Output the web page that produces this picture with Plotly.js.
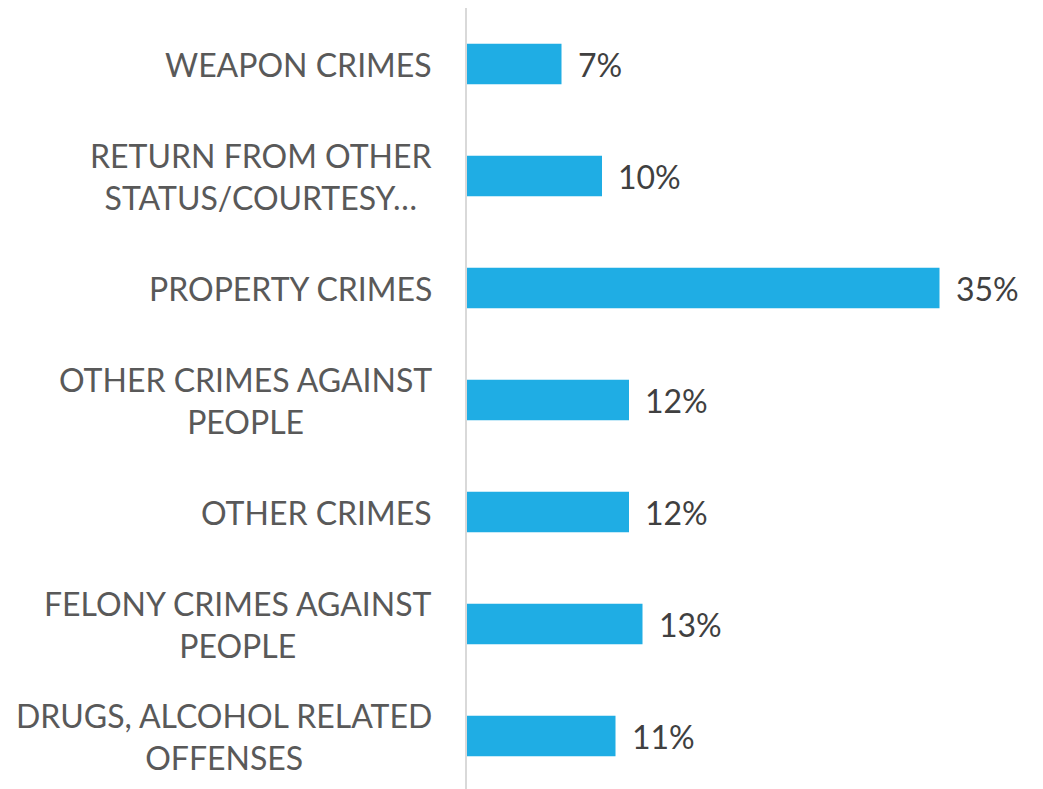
<!DOCTYPE html>
<html><head><meta charset="utf-8">
<script src="https://cdn.plot.ly/plotly-3.0.1.min.js"></script>
<style>html,body{margin:0;padding:0;overflow:hidden;background:#fff}</style>
</head><body>
<div id="chart" style="width:1043px;height:792px"></div>
<script>
const categories = [
  "WEAPON CRIMES",
  "RETURN FROM OTHER<br>STATUS/COURTESY…",
  "PROPERTY CRIMES",
  "OTHER CRIMES AGAINST<br>PEOPLE",
  "OTHER CRIMES",
  "FELONY CRIMES AGAINST<br>PEOPLE",
  "DRUGS, ALCOHOL RELATED<br>OFFENSES"
];
const values = [7, 10, 35, 12, 12, 13, 11];
const valueLabels = ["7%", "10%", "35%", "12%", "12%", "13%", "11%"];

const fontFam = "Lato, 'Open Sans', sans-serif";
const annotations = [];
categories.forEach((c, i) => {
  annotations.push({
    xref: 'paper', yref: 'y', x: 0, y: c, text: c,
    xanchor: 'right', yanchor: 'middle', align: 'center', xshift: -33,
    showarrow: false, font: {family: fontFam, size: 32, color: '#595959'}
  });
  annotations.push({
    xref: 'x', yref: 'y', x: values[i], y: c, text: valueLabels[i],
    xanchor: 'left', yanchor: 'middle', xshift: 14,
    showarrow: false, font: {family: fontFam, size: 32, color: '#404040'}
  });
});

const trace = {
  type: 'bar', orientation: 'h',
  x: values, y: categories,
  marker: {color: '#1FADE4'},
  hoverinfo: 'none'
};

const layout = {
  width: 1043, height: 792,
  margin: {l: 467, r: 36, t: 8, b: 0, pad: 0},
  paper_bgcolor: '#fff', plot_bgcolor: '#fff',
  bargap: 0.64,
  showlegend: false,
  xaxis: {range: [0, 40], visible: false, showgrid: false, zeroline: false},
  yaxis: {autorange: 'reversed', showticklabels: false, ticks: '', showgrid: false,
          zeroline: false, showline: true, linecolor: '#D9D9D9', linewidth: 2},
  annotations: annotations
};

Plotly.newPlot('chart', [trace], layout, {displayModeBar: false, staticPlot: true});
</script>
</body></html>
